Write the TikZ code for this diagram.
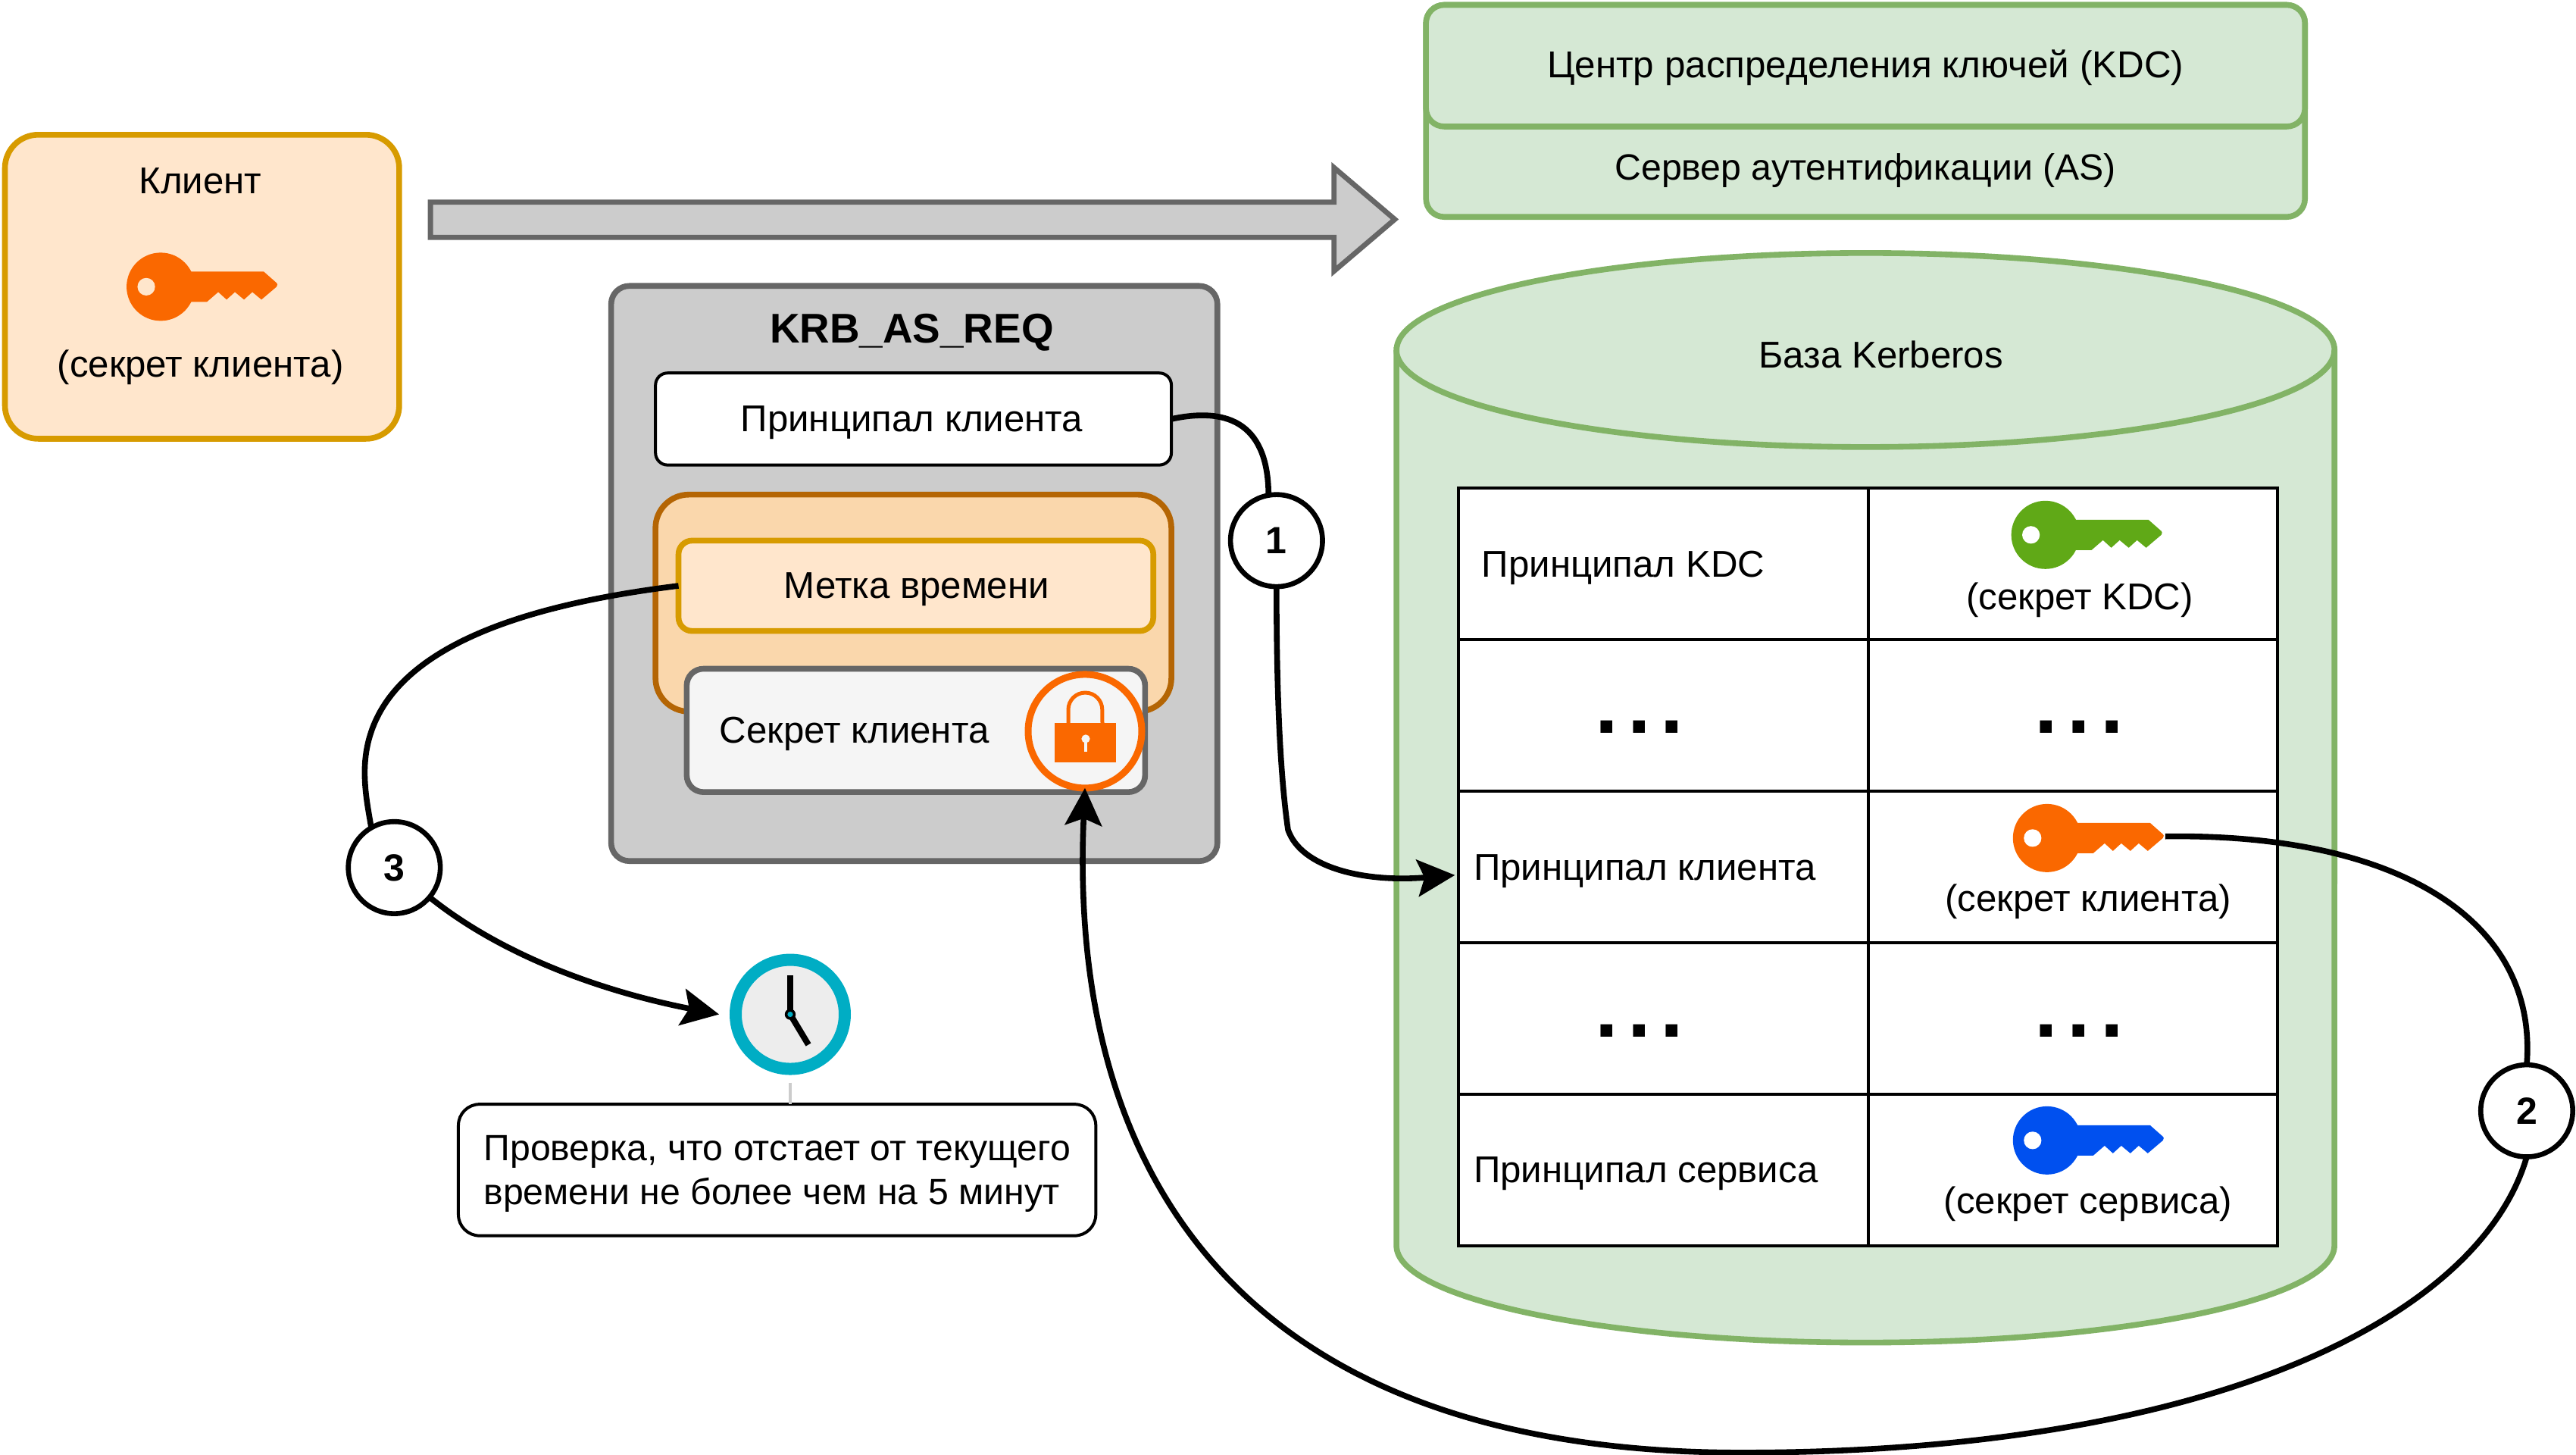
\documentclass[tikz,border=0pt]{standalone}
\usepackage{fontspec}
\setmainfont{Liberation Sans}
\usetikzlibrary{arrows.meta,calc}
\definecolor{cliF}{HTML}{FFE6CC}\definecolor{cliS}{HTML}{D79B00}
\definecolor{grF}{HTML}{D5E8D4}\definecolor{grS}{HTML}{82B366}
\definecolor{gyF}{HTML}{CCCCCC}\definecolor{gyS}{HTML}{666666}
\definecolor{orF}{HTML}{FAD7AC}\definecolor{orS}{HTML}{B46504}
\definecolor{ltF}{HTML}{F5F5F5}
\definecolor{keyO}{HTML}{FA6800}\definecolor{keyG}{HTML}{60A917}\definecolor{keyB}{HTML}{0050EF}
\definecolor{teal}{HTML}{00ADC4}
\newcommand\bx[7][]{\node[#2,outer sep=0pt,inner sep=0pt,minimum width={(#5-#3)*1.0842pt},minimum height={(#6-#4)*1.0842pt},#1] at ({(#3+#5)/2},{(#4+#6)/2}) {#7};}
\newcommand\keyicon[4]{\begin{scope}[shift={(#1,#2)},x=.5pt,y=-.5pt]
 \fill[#3] (0,0) circle[radius=22.5pt];
 \fill[#3] (30,-20) -- (136,-20) -- (153,-5) -- (154,-3) -- (153,0) -- (133,17) -- (121,7) -- (110,17) -- (98,7) -- (87,17) -- (76,7) -- (61,20) -- (30,20) -- cycle;
 \fill[#4] (-19,0) circle[radius=5.8pt];
\end{scope}}
\newcommand\fs{\fontsize{24.6}{29}\selectfont}
\newcommand\fsb{\fontsize{24.1}{29}\selectfont}
\newcommand\dd{.\kern6.35pt.\kern6.35pt.}
\tikzset{
 txt/.style={inner sep=0pt,outer sep=0pt,font=\fs},
 boxline/.style={line width=3.8pt},
 conn/.style={line width=3.8pt,draw=black},
 arr/.style={-{Stealth[length=25pt,width=25pt,inset=5pt,line width=0pt]}},
 numc/.style={circle,draw=black,fill=white,line width=3.3pt,minimum size={56*1.0842pt},inner sep=0pt,outer sep=0pt,font=\fontsize{25}{29}\selectfont\bfseries},
 cell/.style={rectangle,draw=black,fill=white,line width=2pt,minimum width={249.3*1.0842pt},minimum height={92.2*1.0842pt},inner sep=0pt,outer sep=0pt},
 dots/.style={inner sep=0pt,outer sep=0pt,anchor=base,font=\fontsize{55}{60}\selectfont\bfseries},
}
\begin{document}
\begin{tikzpicture}[x=1.0842pt,y=-1.0842pt]
\useasboundingbox (0,0) rectangle (1568.0,885.4);
% client
\bx[name=client]{rectangle,rounded corners=22pt,boxline,draw=cliS,fill=cliF}{3}{82}{243}{267}{}
\node[txt] (clientT) at (122,110) {Клиент};
\keyicon{97.8}{174.5}{keyO}{cliF}
\node[txt] (clientS) at (122,223.5) {(секрет клиента)};
% big arrow
\node[inner sep=0pt,outer sep=0pt] (bigA) at (262,133.5) {};
\filldraw[draw=gyS,fill=gyF,line width=3.4pt,miter limit=10] (bigA.center) ++(0,-10.5) -- (812,123) -- (812,102) -- (849,133.5) -- (812,165) -- (812,144.5) -- (262,144.5) -- cycle;
% KDC
\bx[name=as]{rectangle,rounded corners=12pt,boxline,draw=grS,fill=grF}{868}{3}{1403}{132}{}
\node[txt,font=\fsb] (asT) at (1135.5,104) {Сервер аутентификации (AS)};
\bx[name=kdc]{rectangle,rounded corners=12pt,boxline,draw=grS,fill=grF}{868}{3}{1403}{77}{}
\node[txt,font=\fontsize{24.7}{29}\selectfont] (kdcT) at (1135.5,41) {Центр распределения ключей (KDC)};
% cylinder
\coordinate (cylL) at (850,213);
\filldraw[draw=grS,fill=grF,boxline] (cylL) -- (850,758) arc[start angle=180,end angle=360,x radius=309.5pt,y radius=64pt] -- (1421,213) arc[start angle=0,end angle=180,x radius=309.5pt,y radius=64pt] -- cycle;
\draw[draw=grS,boxline] (cylL) arc[start angle=180,end angle=360,x radius=309.5pt,y radius=64pt];
\node[txt] (dbT) at (1145,216) {База Kerberos};
% table
\foreach \r/\yy in {1/343,2/435.2,3/527.5,4/619.7,5/712}{
 \node[cell] (a\r) at (1012.5,\yy) {};
 \node[cell] (b\r) at (1261.7,\yy) {};
}
\node[txt,anchor=west] (t1) at (902,345.5) {Принципал KDC};
\node[txt,anchor=west] (t3) at (897,530) {Принципал клиента};
\node[txt,anchor=west] (t5) at (897,714) {Принципал сервиса};
\node[dots] (d1) at (998,446.4) {\dd};
\node[dots] (d2) at (1265.5,446.4) {\dd};
\node[dots] (d3) at (998,630.9) {\dd};
\node[dots] (d4) at (1265.5,630.9) {\dd};
\keyicon{1245}{325.5}{keyG}{white}
\keyicon{1246}{510}{keyO}{white}
\keyicon{1246}{694}{keyB}{white}
\node[txt] (s1) at (1266,365) {(секрет KDC)};
\node[txt] (s3) at (1271,548.5) {(секрет клиента)};
\node[txt] (s5) at (1271,732.5) {(секрет сервиса)};
\coordinate (keyEnd) at (1318,509);
% KRB
\bx[name=krb]{rectangle,rounded corners=12pt,boxline,draw=gyS,fill=gyF}{372}{174}{741}{524}{}
\node[txt,font=\fontsize{27.4}{29}\selectfont\bfseries] (krbT) at (555,202.5) {KRB\_AS\_REQ};
\bx[name=princ]{rectangle,rounded corners=8pt,line width=2pt,draw=black,fill=white}{399}{227}{713}{283}{}
\node[txt] (princT) at (555,257) {Принципал клиента};
\bx[name=enc]{rectangle,rounded corners=22pt,boxline,draw=orS,fill=orF}{399}{301}{713}{433}{}
\bx[name=met]{rectangle,rounded corners=9pt,boxline,draw=cliS,fill=cliF}{413}{329}{702}{384}{}
\node[txt] (metT) at (558,358.5) {Метка времени};
\bx[name=sec]{rectangle,rounded corners=11pt,boxline,draw=gyS,fill=ltF}{418}{407}{697}{482}{}
\node[txt] (secT) at (520,446.5) {Секрет клиента};
\node[circle,draw=keyO,fill=ltF,line width=4.5pt,minimum size={150*.5pt},inner sep=0pt,outer sep=0pt] (lock) at (660.4,445) {};
\begin{scope}[shift={(lock.center)},x=.5pt,y=-.5pt]
 \fill[keyO] (-40,-11) rectangle (41,41);
 \draw[keyO,line width=2.5pt] (-22,-11) -- (-22,-28.5) arc[start angle=180,end angle=0,radius=11.2pt] -- (23,-11);
 \fill[ltF] (1,10) circle[radius=2.8pt];
 \fill[ltF] (-1,10) rectangle (3,27);
\end{scope}
% clock
\node[circle,draw=teal,fill=black!7,line width=8pt,minimum size={144*.5pt},inner sep=0pt,outer sep=0pt] (clock) at (481,617.3) {};
\begin{scope}[shift={(clock.center)},x=.5pt,y=-.5pt]
 \draw[black,line width=4pt] (0,0) -- (0,-52);
 \draw[black,line width=4pt] (0,0) -- (24,40);
 \fill[black] (0,0) circle[radius=3.6pt];
 \fill[teal] (0,0) circle[radius=1.8pt];
\end{scope}
% note
\bx[name=note]{rectangle,rounded corners=14pt,line width=2pt,draw=black,fill=white}{279}{672}{667}{752}{}
\node[txt,align=left,font=\fontsize{24.1}{29}\selectfont,anchor=west] (noteT) at (294.5,714.5) {Проверка, что отстает от текущего\\времени не более чем на 5 минут};
\draw[gyF,line width=1.6pt,shorten <=9pt] (clock.south) -- (clock.south |- note.north);
% connectors
\node[numc] (n1) at (777,329) {1};
\node[numc] (n2) at (1538,676) {2};
\node[numc] (n3) at (240,528) {3};
\draw[conn] (princ.east) .. controls (750,247) and (772,260) .. (n1.100);
\draw[conn,arr] (n1.south) .. controls (777,420) and (779,470) .. (784,505) .. controls (792,528) and (830,537) .. ([xshift=-2.5pt,yshift=-5.5pt]a3.west);
\draw[conn] (keyEnd) .. controls (1460,507) and (1545,560) .. (n2.north);
\draw[conn,arr] (n2.south) .. controls (1510,800) and (1350,884) .. (1060,884) .. controls (760,884) and (650,720) .. (lock.south);
\draw[conn] (met.west) .. controls (320,368) and (222,395) .. (222,470) .. controls (222,482) and (224,492) .. (n3.120);
\draw[conn,arr] (n3.-40) .. controls (310,585) and (375,605) .. ([xshift=-11pt]clock.west);
\end{tikzpicture}
\end{document}
